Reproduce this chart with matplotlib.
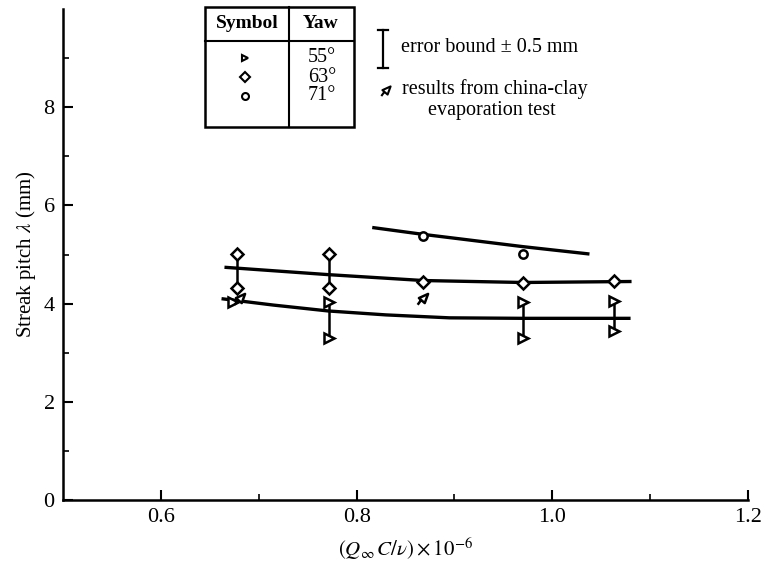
import matplotlib
matplotlib.use('Agg')
import matplotlib.pyplot as plt
from matplotlib.path import Path
from matplotlib.patches import Rectangle

plt.rcParams['font.family'] = ['Liberation Serif', 'DejaVu Serif']
plt.rcParams['mathtext.fontset'] = 'stix'

# measured points (Yaw 55, 63, 71 deg)
x55 = [0.674, 0.772, 0.772, 0.970, 0.970, 1.063, 1.063]
y55 = [4.03, 4.03, 3.29, 4.04, 3.29, 4.06, 3.45]
x63 = [0.678, 0.678, 0.772, 0.772, 0.868, 0.970, 1.063]
y63 = [5.02, 4.31, 5.02, 4.31, 4.45, 4.41, 4.46]
x71 = [0.868, 0.970]
y71 = [5.38, 5.01]

# china-clay evaporation results
x_clay = [0.681, 0.868]
y_clay = [4.11, 4.11]

# error bars (x, low, high)
bar_x = [0.678, 0.772, 0.772, 0.970, 1.063]
bar_lo = [4.31, 4.31, 3.29, 3.29, 3.45]
bar_hi = [5.02, 5.02, 4.03, 4.04, 4.06]

# faired curves
c55_x = [0.662, 0.715, 0.771, 0.830, 0.895, 0.970, 1.080]
c55_y = [4.10, 3.97, 3.85, 3.77, 3.71, 3.70, 3.70]
c63_x = [0.665, 0.771, 0.868, 0.970, 1.081]
c63_y = [4.74, 4.59, 4.47, 4.43, 4.45]
c71_x = [0.816, 0.868, 0.905, 0.970, 1.038]
c71_y = [5.55, 5.41, 5.32, 5.16, 5.01]

yaw_labels = ['55°', '63°', '71°']

# marker for the clay test: tilted triangle with a tail
clay_marker = Path(
    [(-0.55, 0.05), (0.55, 0.55), (0.15, -0.55), (-0.55, 0.05), (-0.3, -0.2), (-0.7, -0.75)],
    [Path.MOVETO, Path.LINETO, Path.LINETO, Path.CLOSEPOLY, Path.MOVETO, Path.LINETO])

fig = plt.figure(figsize=(7.66, 5.66), dpi=100)
ax = fig.add_axes([63 / 766, 66 / 566, 685 / 766, 491 / 566])

ax.plot(c55_x, c55_y, color='black', lw=2.4, solid_capstyle='butt')
ax.plot(c63_x, c63_y, color='black', lw=2.4, solid_capstyle='butt')
ax.plot(c71_x, c71_y, color='black', lw=2.4, solid_capstyle='butt')
ax.vlines(bar_x, bar_lo, bar_hi, color='black', lw=1.8)

mk = dict(ls='none', mfc='white', mec='black', mew=1.8, zorder=3)
ax.plot(x55, y55, marker='>', ms=6.5, **mk)
ax.plot(x63, y63, marker='D', ms=6.5, **mk)
ax.plot(x71, y71, marker='o', ms=6, **mk)
ax.plot(x_clay, y_clay, marker=clay_marker, ms=9, **mk)

ax.set_xlim(0.5, 1.2)
ax.set_ylim(0, 10)
ax.set_xticks([0.6, 0.8, 1.0, 1.2])
ax.set_xticklabels(['0.6', '0.8', '1.0', '1.2'])
ax.set_xticks([0.7, 0.9, 1.1], minor=True)
ax.set_yticks([0, 2, 4, 6, 8])
ax.set_yticks([1, 3, 5, 7, 9], minor=True)
for s in ['top', 'right']:
    ax.spines[s].set_visible(False)
for s in ['left', 'bottom']:
    ax.spines[s].set_linewidth(1.8)
ax.tick_params(direction='in', length=7, width=1.5, labelsize=16, pad=6)
ax.tick_params(which='minor', direction='in', length=4, width=1.2)
ax.set_xlabel(r'$(Q_{\infty}\,C/\nu)\times10^{-6}$', fontsize=15, labelpad=6)
ax.set_ylabel(r'Streak pitch $\lambda$ (mm)', fontsize=15, labelpad=4)

# key table, laid out in pixel coordinates
kx = fig.add_axes([0, 0, 1, 1])
kx.set_xlim(0, 766)
kx.set_ylim(566, 0)
kx.set_axis_off()
kx.add_patch(Rectangle((205, 7), 149, 120, fill=False, lw=1.8, color='black'))
kx.plot([205, 354], [41, 41], color='black', lw=1.5)
kx.plot([289, 289], [7, 127], color='black', lw=1.5)
kx.text(247, 24, 'Symbol', ha='center', va='center', fontsize=14, weight='bold')
kx.text(321, 24, 'Yaw', ha='center', va='center', fontsize=14, weight='bold')
rows_y = [58, 77, 96]
for m, yy, lab in zip(['>', 'D', 'o'], rows_y, yaw_labels):
    kx.plot([245], [yy], marker=m, ms=5, mfc='white', mec='black', mew=1.5)
    kx.text(322, yy, lab, ha='center', va='center', fontsize=14.5)

kx.plot([383, 383], [30, 68], color='black', lw=1.6)
kx.plot([378, 388], [30, 30], color='black', lw=1.6)
kx.plot([378, 388], [68, 68], color='black', lw=1.6)
kx.text(401, 48, 'error bound ± 0.5 mm', ha='left', va='center', fontsize=14.5)
kx.plot([386], [90], marker=clay_marker, ms=8, mfc='white', mec='black', mew=1.5)
kx.text(402, 89, 'results from china-clay', ha='left', va='center', fontsize=14.5)
kx.text(492, 111, 'evaporation test', ha='center', va='center', fontsize=14.5)

fig.savefig('out.png', dpi=100)
